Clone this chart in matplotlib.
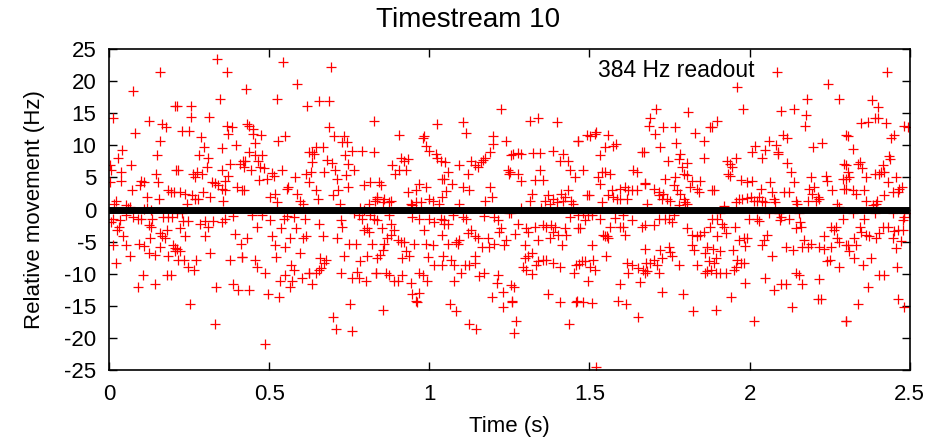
import matplotlib
matplotlib.use("Agg")
import matplotlib.pyplot as plt

plt.rcParams['font.family'] = ['Liberation Sans', 'DejaVu Sans']
plt.rcParams['axes.unicode_minus'] = False

# readout samples (time in s, relative movement in Hz)
time_s = [
    # 0.00 - 0.21
    0.158, 0.075, 0.205, 0.012, 0.125, 0.166, 0.177, 0.080, 0.160, 0.040, 0.028, 0.150, 0.068, 0.002, 0.007, 0.210, 0.036, 0.148, 0.038, 0.153, 0.004, 0.101, 0.109, 0.096, 0.073, 0.184, 0.194, 0.203, 0.120, 0.156, 0.023, 0.016, 0.054, 0.065, 0.059, 0.110, 0.120, 0.130,
    0.012, 0.033, 0.007, 0.054, 0.075, 0.090, 0.101, 0.170, 0.185, 0.195, 0.135, 0.125, 0.130, 0.030, 0.025, 0.045, 0.160, 0.165, 0.182, 0.175, 0.128, 0.012, 0.052, 0.095, 0.110, 0.160, 0.200, 0.205, 0.065, 0.125, 0.145, 0.183, 0.205, 0.022, 0.105, 0.180, 0.192, 0.090, 0.142,
    # 0.21 - 0.42
    0.338, 0.369, 0.346, 0.211, 0.255, 0.256, 0.312, 0.227, 0.250, 0.367, 0.383, 0.372, 0.287, 0.396, 0.297, 0.352, 0.281, 0.308, 0.216, 0.305, 0.377, 0.409, 0.419, 0.352, 0.263, 0.274, 0.289, 0.268, 0.372, 0.362, 0.320, 0.331, 0.341, 0.352, 0.362, 0.398, 0.414, 0.222, 0.237, 0.258, 0.268, 0.279, 0.294, 0.315, 0.357, 0.242,
    0.211, 0.227, 0.248, 0.230, 0.222, 0.284, 0.300, 0.325, 0.310, 0.362, 0.388, 0.352, 0.237, 0.300, 0.393, 0.412, 0.315, 0.213, 0.222, 0.216, 0.235, 0.273, 0.245, 0.264, 0.377, 0.414, 0.388, 0.402, 0.334, 0.253, 0.331,
    # 0.42 - 0.63
    0.543, 0.427, 0.587, 0.524, 0.618, 0.431, 0.438, 0.448, 0.451, 0.475, 0.550, 0.529, 0.455, 0.436, 0.457, 0.479, 0.465, 0.625, 0.423, 0.420, 0.444, 0.472, 0.483, 0.540, 0.509, 0.514, 0.467, 0.493, 0.581, 0.615, 0.623, 0.420, 0.519, 0.503, 0.560, 0.555, 0.587, 0.597, 0.607, 0.524,
    0.446, 0.477, 0.503, 0.545, 0.555, 0.576, 0.613, 0.462, 0.538, 0.583, 0.431, 0.509, 0.566, 0.607, 0.615, 0.517, 0.548, 0.597, 0.416, 0.457, 0.522, 0.462, 0.488, 0.569, 0.576, 0.550, 0.535, 0.571, 0.602, 0.623, 0.564, 0.436, 0.495, 0.532, 0.486,
    # 0.63 - 0.84
    0.692, 0.655, 0.686, 0.827, 0.688, 0.702, 0.733, 0.728, 0.744, 0.645, 0.668, 0.634, 0.640, 0.757, 0.790, 0.827, 0.736, 0.681, 0.695, 0.634, 0.747, 0.705, 0.764, 0.629, 0.671, 0.740, 0.712, 0.816, 0.796, 0.645, 0.715, 0.747, 0.699, 0.653, 0.720, 0.811, 0.830, 0.837, 0.785, 0.795,
    0.764, 0.780, 0.790, 0.816, 0.827, 0.655, 0.723, 0.728, 0.796, 0.806, 0.811, 0.668, 0.712, 0.749, 0.772, 0.822, 0.733, 0.806, 0.837, 0.660, 0.676, 0.671, 0.785, 0.663, 0.655, 0.625, 0.645, 0.725, 0.775, 0.757, 0.780, 0.803, 0.832, 0.634, 0.752, 0.699, 0.709, 0.759,
    # 0.84 - 1.05
    1.025, 0.906, 0.984, 0.979, 0.989, 1.000, 1.020, 1.025, 1.036, 0.911, 0.932, 0.921, 0.883, 0.904, 0.893, 0.927, 1.041, 0.843, 0.848, 0.968, 0.989, 0.958, 0.932, 1.000, 1.010, 0.838, 0.859, 0.880, 0.854, 0.875, 0.942, 0.958, 0.973, 0.947, 1.031, 1.041,
    0.838, 0.875, 0.880, 0.852, 0.947, 0.968, 1.000, 1.015, 1.036, 1.046, 0.984, 0.890, 0.880, 0.869, 0.901, 0.911, 0.921, 0.953, 0.989, 1.010, 1.041, 0.859, 0.854, 0.845, 0.927, 0.937, 0.916, 0.997, 1.015, 1.041, 0.834, 0.864, 0.875, 0.890, 0.901, 0.914, 0.968, 0.979, 0.994, 0.942, 0.947, 0.968, 0.958, 0.963, 0.856,
    # 1.05 - 1.26
    1.224, 1.104, 1.113, 1.200, 1.198, 1.240, 1.188, 1.175, 1.255, 1.130, 1.141, 1.151, 1.162, 1.167, 1.094, 1.050, 1.058, 1.047, 1.120, 1.245, 1.250, 1.071, 1.104, 1.125, 1.052, 1.190, 1.196, 1.175, 1.092,
    1.047, 1.058, 1.073, 1.104, 1.115, 1.172, 1.203, 1.213, 1.248, 1.224, 1.219, 1.130, 1.120, 1.141, 1.151, 1.182, 1.185, 1.058, 1.084, 1.089, 1.094, 1.240, 1.234, 1.203, 1.165, 1.141, 1.068, 1.078, 1.043, 1.110, 1.125, 1.141, 1.099, 1.156, 1.172, 1.078, 1.213, 1.210, 1.255, 1.196, 1.231, 1.229, 1.257, 1.063, 1.084, 1.123, 1.146,
    # 1.26 - 1.47
    1.313, 1.339, 1.397, 1.464, 1.261, 1.277, 1.287, 1.324, 1.345, 1.386, 1.417, 1.407, 1.433, 1.252, 1.277, 1.287, 1.329, 1.355, 1.347, 1.438, 1.454, 1.322, 1.313, 1.371, 1.360, 1.386, 1.376, 1.397, 1.412, 1.423, 1.433, 1.417, 1.443, 1.449, 1.287, 1.350,
    1.438, 1.256, 1.277, 1.266, 1.303, 1.308, 1.329, 1.355, 1.365, 1.381, 1.391, 1.386, 1.376, 1.402, 1.428, 1.423, 1.464, 1.339, 1.298, 1.415, 1.308, 1.322, 1.299, 1.339, 1.355, 1.365, 1.386, 1.407, 1.334, 1.293, 1.301, 1.319, 1.459, 1.451, 1.263, 1.371, 1.407, 1.459, 1.259, 1.270, 1.264, 1.436,
    # 1.47 - 1.68
    1.520, 1.517, 1.491, 1.502, 1.465, 1.559, 1.548, 1.574, 1.583, 1.533, 1.663, 1.481, 1.538, 1.548, 1.564, 1.528, 1.647, 1.637, 1.533, 1.491, 1.499, 1.569, 1.559, 1.574, 1.595, 1.611, 1.621, 1.632, 1.649, 1.673, 1.585, 1.595, 1.616, 1.538,
    1.465, 1.481, 1.496, 1.507, 1.486, 1.533, 1.580, 1.606, 1.632, 1.673, 1.470, 1.564, 1.595, 1.606, 1.611, 1.543, 1.548, 1.554, 1.559, 1.663, 1.507, 1.551, 1.476, 1.466, 1.486, 1.512, 1.502, 1.517, 1.616, 1.632, 1.621, 1.652, 1.668, 1.674, 1.496, 1.595, 1.657, 1.461, 1.481, 1.507, 1.590, 1.614, 1.652, 1.520,
    # 1.68 - 1.89
    1.709, 1.809, 1.690, 1.685, 1.705, 1.731, 1.768, 1.830, 1.856, 1.877, 1.719, 1.771, 1.669, 1.783, 1.778, 1.744, 1.804, 1.789, 1.856, 1.794, 1.804, 1.768, 1.737, 1.674, 1.700, 1.716, 1.731, 1.742, 1.752, 1.763, 1.773, 1.783, 1.794, 1.799, 1.820, 1.846, 1.835, 1.841, 1.815, 1.882, 1.679, 1.726, 1.716, 1.778, 1.804,
    1.716, 1.737, 1.747, 1.763, 1.700, 1.757, 1.804, 1.820, 1.835, 1.846, 1.856, 1.877, 1.883, 1.674, 1.721, 1.747, 1.752, 1.757, 1.820, 1.825, 1.866, 1.861, 1.700, 1.690, 1.711, 1.726, 1.675, 1.778, 1.835, 1.679, 1.716, 1.872, 1.866, 1.861, 1.726, 1.792, 1.823,
    # 1.89 - 2.09
    2.086, 1.961, 1.979, 1.899, 1.883, 2.060, 2.081, 2.088, 2.018, 2.008, 2.039, 2.049, 1.930, 1.940, 1.956, 1.945, 1.931, 1.938, 1.972, 1.992, 2.008, 1.888, 2.065, 2.070, 2.034, 2.029, 2.039, 2.049, 1.966, 1.977, 1.993, 2.003, 2.013, 2.023, 1.919, 1.956, 2.075, 2.080,
    1.909, 1.899, 1.914, 1.920, 1.997, 2.023, 2.029, 2.060, 2.091, 1.899, 1.925, 1.953, 1.966, 1.982, 1.992, 1.987, 2.055, 2.044, 2.039, 1.886, 1.909, 1.949, 2.070, 1.894, 1.888, 1.961, 1.972, 1.982, 1.956, 1.878, 1.894, 1.909, 1.925, 1.951, 2.049, 1.987, 2.075, 1.942, 1.894, 2.013,
    # 2.09 - 2.30
    2.246, 2.279, 2.178, 2.175, 2.172, 2.097, 2.137, 2.103, 2.118, 2.300, 2.199, 2.227, 2.090, 2.118, 2.129, 2.295, 2.139, 2.191, 2.238, 2.243, 2.290, 2.295, 2.108, 2.123, 2.186, 2.201, 2.196, 2.212, 2.217, 2.207, 2.181, 2.258, 2.144, 2.149, 2.274, 2.279,
    2.092, 2.097, 2.094, 2.123, 2.155, 2.144, 2.160, 2.156, 2.253, 2.269, 2.264, 2.290, 2.232, 2.274, 2.113, 2.134, 2.170, 2.165, 2.181, 2.191, 2.217, 2.232, 2.253, 2.279, 2.300, 2.243, 2.251, 2.279, 2.144, 2.155, 2.097, 2.113, 2.165, 2.217, 2.212, 2.222, 2.131, 2.300,
    # 2.30 - 2.50
    2.428, 2.381, 2.400, 2.348, 2.369, 2.390, 2.400, 2.426, 2.483, 2.494, 2.306, 2.441, 2.452, 2.322, 2.436, 2.439, 2.301, 2.337, 2.343, 2.350, 2.416, 2.410, 2.306, 2.311, 2.302, 2.364, 2.390, 2.405, 2.421, 2.431, 2.457, 2.301, 2.322, 2.332, 2.358, 2.421, 2.447, 2.462, 2.467, 2.475, 2.364, 2.398, 2.385, 2.395,
    2.322, 2.358, 2.390, 2.447, 2.483, 2.481, 2.478, 2.499, 2.343, 2.348, 2.364, 2.374, 2.395, 2.416, 2.405, 2.431, 2.452, 2.462, 2.478, 2.447, 2.471, 2.327, 2.306, 2.332, 2.457, 2.311, 2.327, 2.353, 2.379, 2.405, 2.421, 2.460, 2.369, 2.462, 2.483, 2.338, 2.302,
]

movement_hz = [
    # 0.00 - 0.21
    21.5, 18.5, 16.1, 14.3, 13.8, 13.4, 12.8, 11.9, 10.7, 9.3, 8.0, 8.5, 7.0, 7.0, 6.2, 6.2, 5.8, 5.6, 4.5, 4.3, 4.3, 4.5, 4.3, 3.8, 3.1, 3.1, 2.7, 2.7, 2.0, 1.6, 1.4, 0.9, 0.7, 0.4, 0.2, 0.1, 0.2, 0.0,
    -1.4, -1.6, -1.9, -0.9, -1.1, -1.4, -1.4, -1.1, -1.1, -1.1, -1.4, -2.4, -2.8, -2.8, -3.2, -4.1, -3.7, -4.2, -3.2, -4.5, -4.4, -5.5, -5.6, -5.4, -5.7, -5.8, -5.5, -6.0, -7.2, -6.8, -7.1, -7.2, -6.5, -8.4, -10.2, -10.2, -10.2, -12.1, -11.6,
    # 0.21 - 0.42
    23.4, 21.4, 17.3, 16.1, 16.1, 14.5, 14.5, 12.3, 12.3, 13.0, 12.8, 11.8, 11.3, 10.1, 9.7, 9.6, 8.5, 8.1, 6.1, 6.6, 7.1, 7.1, 7.6, 6.1, 5.6, 5.8, 5.6, 5.1, 5.2, 4.5, 4.3, 4.2, 3.8, 3.2, 3.1, 3.5, 3.1, 2.7, 2.5, 2.2, 1.7, 1.6, 2.7, 2.0, 1.3, 0.8,
    -0.6, -0.6, -1.8, -1.8, -2.9, -2.2, -1.8, -1.8, -2.8, -1.4, -1.0, -1.9, -4.1, -4.1, -3.8, -5.4, -6.8, -6.1, -6.5, -7.9, -7.9, -7.9, -9.0, -9.5, -7.9, -7.4, -11.6, -12.5, -12.1, -14.8, -17.9,
    # 0.42 - 0.63
    23.0, 18.8, 19.5, 17.3, 16.1, 13.4, 13.0, 12.5, 11.8, 11.6, 11.5, 10.7, 10.4, 8.9, 8.5, 8.5, 7.6, 8.9, 7.6, 6.6, 6.2, 6.6, 6.4, 6.2, 5.7, 5.2, 4.6, 4.7, 5.1, 5.6, 4.3, 3.1, 2.5, 2.0, 3.5, 3.2, 2.5, 1.4, 0.8, 1.2,
    -0.8, -0.8, -1.6, -1.5, -1.0, -1.1, -1.4, -2.7, -2.9, -2.9, -4.5, -4.1, -4.5, -4.5, -4.1, -5.6, -5.9, -6.8, -7.4, -7.9, -7.4, -9.0, -9.9, -8.6, -9.5, -10.2, -11.1, -11.1, -10.7, -9.9, -12.1, -12.6, -13.2, -13.7, -20.9,
    # 0.63 - 0.84
    22.2, 16.9, 16.9, 13.8, 12.8, 11.5, 11.4, 10.5, 10.5, 9.7, 9.7, 8.9, 8.7, 9.2, 9.2, 8.9, 8.5, 7.8, 7.3, 7.4, 7.1, 6.2, 6.1, 5.8, 5.8, 5.4, 4.7, 4.3, 3.9, 3.1, 3.1, 3.5, 2.3, 1.6, 0.9, 0.9, 1.4, 2.0, 0.2, -0.1,
    -0.6, -0.9, -1.4, -0.9, -1.4, -2.3, -1.6, -2.7, -3.2, -2.9, -3.5, -4.1, -4.5, -5.4, -5.4, -5.4, -7.2, -7.2, -7.6, -7.6, -7.8, -8.4, -8.0, -9.1, -9.5, -9.9, -9.9, -9.9, -9.7, -10.6, -10.6, -11.2, -9.9, -11.6, -14.8, -16.8, -18.7, -18.9,
    # 0.84 - 1.05
    13.4, 11.6, 11.5, 11.2, 9.9, 9.2, 8.7, 8.1, 7.6, 8.1, 7.9, 7.5, 7.0, 6.1, 5.6, 6.1, 4.8, 4.3, 3.9, 4.0, 3.5, 3.1, 2.7, 1.7, 1.4, 1.7, 1.6, 1.4, 1.2, 1.2, 0.9, 1.2, 1.2, 0.7, 0.9, 2.0,
    -1.6, -0.9, -2.2, -2.9, -1.1, -1.4, -1.5, -1.9, -1.4, -2.2, -3.2, -3.2, -4.0, -4.4, -4.7, -5.0, -5.0, -5.4, -5.4, -5.6, -3.9, -5.4, -6.3, -7.1, -6.5, -7.2, -7.6, -7.4, -8.7, -8.7, -9.9, -9.9, -10.2, -11.1, -11.1, -10.2, -9.9, -10.2, -11.2, -11.4, -13.2, -13.0, -14.2, -14.4, -15.7,
    # 1.05 - 1.26
    15.7, 13.7, 11.9, 11.4, 10.2, 10.7, 8.9, 8.1, 8.5, 7.6, 7.0, 6.6, 7.4, 7.8, 7.0, 7.4, 5.8, 4.8, 5.6, 6.2, 5.6, 4.0, 3.5, 3.1, 2.9, 3.5, 2.0, 1.3, 0.8,
    -1.6, -2.2, -0.9, -1.1, -1.4, -1.0, -1.1, -1.6, -0.6, -2.9, -3.5, -3.2, -3.7, -4.2, -4.4, -4.4, -5.8, -5.3, -5.0, -5.4, -4.7, -4.7, -5.5, -5.3, -5.9, -7.2, -7.8, -8.6, -7.2, -8.6, -8.6, -8.4, -9.9, -10.4, -9.9, -11.1, -10.2, -11.4, -11.8, -13.7, -12.8, -15.2, -14.3, -14.7, -15.8, -17.8, -18.7,
    # 1.26 - 1.47
    13.8, 14.2, 13.7, 10.7, 8.7, 8.8, 8.7, 8.8, 8.8, 9.2, 8.7, 7.6, 7.6, 5.8, 5.6, 4.5, 4.6, 4.6, 6.1, 6.1, 5.1, 2.5, 1.3, 2.2, 1.4, 1.7, 0.9, 1.2, 2.5, 2.0, 3.0, 1.4, 1.4, 0.9, 0.2, 0.2,
    -1.1, -0.6, -2.3, -3.8, -2.9, -3.5, -2.8, -2.4, -2.8, -2.4, -2.8, -3.5, -4.5, -3.9, -4.0, -2.9, -2.9, -4.7, -5.6, -5.6, -7.3, -6.8, -7.6, -8.0, -7.8, -7.8, -8.4, -9.0, -8.7, -9.0, -9.5, -10.1, -8.6, -9.9, -12.1, -13.1, -14.4, -14.4, -14.4, -17.4, -19.3, -17.9,
    # 1.47 - 1.68
    12.1, 11.8, 11.6, 11.4, 10.7, 11.6, 9.7, 9.9, 10.2, 8.5, 8.9, 6.1, 5.9, 5.9, 5.6, 5.1, 5.8, 6.1, 4.0, 2.2, 2.3, 3.1, 2.2, 2.0, 3.2, 3.5, 3.1, 3.1, 3.1, 4.0, 1.6, 1.6, 1.6, 1.2,
    -0.9, -0.6, -0.9, -0.9, -1.6, -1.4, -1.3, -0.9, -1.6, -2.4, -2.9, -2.7, -2.7, -2.8, -4.0, -3.9, -4.2, -4.1, -4.4, -2.7, -5.6, -7.2, -8.1, -8.5, -8.1, -7.8, -8.9, -9.5, -8.4, -8.6, -9.9, -9.1, -9.5, -9.9, -11.1, -11.6, -11.3, -14.3, -14.4, -14.5, -14.3, -14.7, -16.8, -24.6,
    # 1.68 - 1.89
    15.7, 15.2, 14.2, 13.0, 11.8, 12.8, 12.8, 11.9, 10.7, 12.8, 9.8, 10.4, 8.9, 8.7, 7.9, 7.6, 7.3, 6.6, 8.0, 5.6, 5.4, 5.1, 4.8, 4.2, 3.2, 2.7, 2.5, 1.7, 1.4, 3.8, 3.0, 2.5, 1.6, 1.2, 4.4, 4.4, 3.2, 2.7, 3.5, 3.1, 0.9, 1.6, 2.3, 0.7, 0.8,
    -1.4, -1.4, -1.4, -0.9, -2.4, -1.9, -2.9, -3.9, -4.2, -3.9, -3.5, -2.7, -1.4, -6.1, -6.3, -5.8, -6.6, -7.3, -5.5, -6.3, -5.8, -6.8, -7.8, -8.4, -8.6, -7.6, -8.4, -8.6, -8.6, -9.6, -9.9, -8.1, -9.6, -9.9, -12.9, -13.1, -15.8,
    # 1.89 - 2.09
    21.5, 19.1, 15.7, 13.8, 12.8, 10.7, 10.1, 8.7, 9.9, 9.0, 8.1, 9.3, 7.6, 7.1, 8.1, 6.6, 5.6, 5.2, 4.6, 4.3, 4.4, 3.1, 4.3, 2.7, 3.2, 2.0, 1.4, 1.2, 1.6, 1.6, 1.8, 2.0, 1.4, 1.4, 0.6, 1.2, 1.7, 1.2,
    -0.6, -1.4, -2.2, -2.8, -1.5, -1.4, -1.8, -0.6, -0.6, -4.1, -3.7, -2.8, -4.7, -4.5, -4.4, -5.7, -3.9, -4.7, -5.5, -6.1, -6.4, -6.3, -7.2, -7.6, -8.4, -7.8, -8.4, -8.4, -8.9, -9.5, -9.9, -9.9, -9.9, -9.5, -10.6, -11.4, -12.6, -13.7, -15.7, -17.4,
    # 2.09 - 2.30
    19.5, 17.3, 17.3, 14.8, 13.0, 15.4, 15.7, 11.6, 11.2, 11.6, 9.7, 10.4, 9.0, 7.3, 5.8, 7.1, 4.3, 5.1, 5.3, 4.5, 4.8, 3.2, 2.7, 2.7, 3.2, 3.5, 2.5, 2.0, 1.7, 1.4, 1.4, 3.1, 1.4, 0.9, 0.9, 0.4,
    -0.6, -1.1, -1.6, -1.4, -0.6, -2.9, -2.7, -1.9, -2.7, -2.7, -3.2, -1.4, -4.1, -4.5, -5.9, -6.3, -4.7, -5.9, -5.9, -5.4, -5.8, -6.1, -5.9, -5.1, -5.5, -8.1, -7.8, -9.0, -9.9, -10.2, -11.6, -11.6, -11.6, -10.9, -14.0, -14.0, -15.2, -17.4,
    # 2.30 - 2.50
    21.4, 17.1, 16.0, 13.5, 13.7, 14.2, 14.2, 13.5, 13.0, 12.8, 11.5, 11.1, 11.6, 9.5, 8.3, 7.9, 7.0, 7.1, 7.4, 6.4, 7.0, 5.9, 5.8, 5.1, 4.7, 5.1, 5.6, 5.6, 5.8, 4.3, 5.1, 3.2, 3.1, 2.5, 3.1, 2.2, 2.7, 2.7, 3.2, 3.5, 1.3, 1.3, 0.7, 0.9,
    -0.6, -1.4, -0.6, -0.6, -0.6, -1.1, -1.6, -0.6, -2.8, -3.5, -4.0, -4.1, -4.4, -2.8, -3.6, -2.8, -3.4, -3.2, -3.2, -4.4, -4.9, -4.4, -5.6, -5.6, -6.0, -6.5, -7.5, -8.6, -7.5, -10.2, -10.2, -9.0, -12.1, -14.0, -15.2, -14.7, -17.4,
]

x_ticks = [0, 0.5, 1, 1.5, 2, 2.5]
x_labels = ["0", "0.5", "1", "1.5", "2", "2.5"]
y_ticks = list(range(-25, 26, 5))

fig = plt.figure(figsize=(9.36, 4.43), dpi=100)
ax = fig.add_axes([0.1165, 0.165, 0.8555, 0.724])

ax.plot(time_s, movement_hz, linestyle="none", marker="+", color="red",
        markersize=7, markeredgewidth=0.9)
ax.axhline(0, color="black", linewidth=5, zorder=3)

ax.set_xlim(0, 2.5)
ax.set_ylim(-25, 25)
ax.set_xticks(x_ticks)
ax.set_xticklabels(x_labels)
ax.set_yticks(y_ticks)
ax.tick_params(direction="in", length=6, width=1, top=True, right=True,
               labelsize=16)
ax.tick_params(axis="x", pad=10)
ax.tick_params(axis="y", pad=9)
for s in ax.spines.values():
    s.set_linewidth(1.2)

# gnuplot centres the title on the whole canvas
fig.text(0.5, 0.955, "Timestream 10", ha="center", va="center", fontsize=20)
ax.set_xlabel("Time (s)", fontsize=16, labelpad=8)
ax.set_ylabel("Relative movement (Hz)", fontsize=16, labelpad=14)
ax.text(0.806, 0.935, "384 Hz readout", transform=ax.transAxes,
        ha="right", va="center", fontsize=16.5)

fig.savefig("out.png", dpi=100)
